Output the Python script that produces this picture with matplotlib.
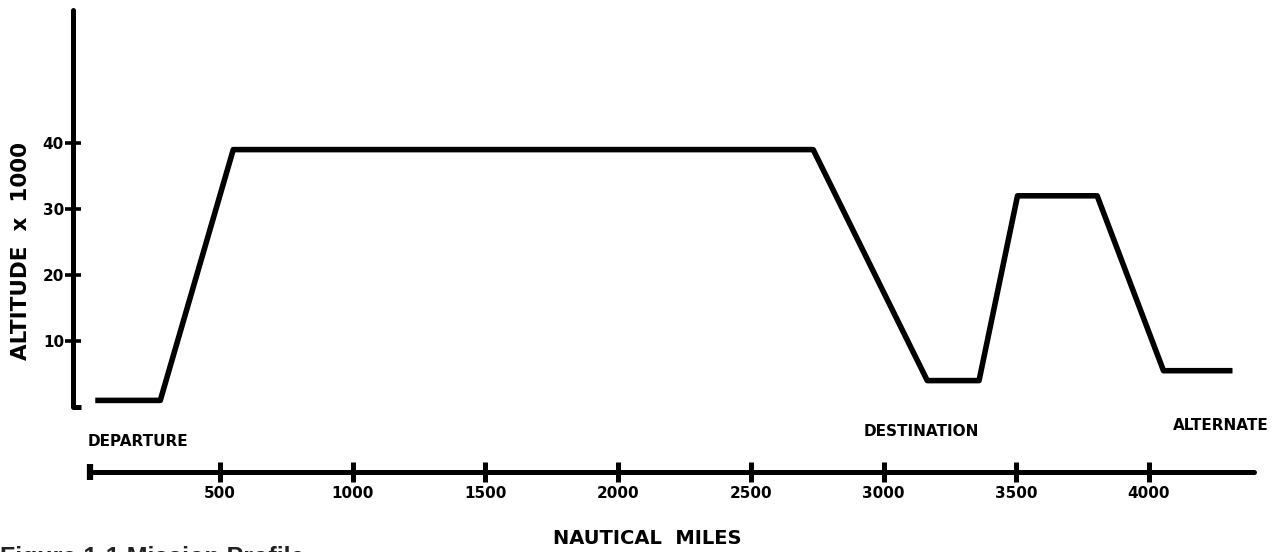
import matplotlib
matplotlib.use("Agg")
import matplotlib.pyplot as plt
from matplotlib.ticker import FixedLocator
from matplotlib.transforms import blended_transform_factory

# Mission profile: distance flown (nautical miles) vs altitude (thousands of feet)
distance_nm = [30, 275, 550, 2735, 3165, 3360, 3505, 3805, 4055, 4315]
altitude_kft = [1, 1, 39, 39, 4, 4, 32, 32, 5.5, 5.5]

alt_ticks = [10, 20, 30, 40]
alt_tick_labels = ["10", "20", "30", "40"]
dist_ticks = [500, 1000, 1500, 2000, 2500, 3000, 3500, 4000]
dist_tick_labels = ["500", "1000", "1500", "2000", "2500", "3000", "3500", "4000"]

point_names = ["DEPARTURE", "DESTINATION", "ALTERNATE"]

plt.rcParams["font.family"] = ["DejaVu Sans"]
plt.rcParams["font.weight"] = "bold"

W, H = 1282, 552
fig = plt.figure(figsize=(W / 100, H / 100), dpi=100)
fig.patch.set_facecolor("white")

# pixel geometry of the drawing
x0_px, px_per_nm = 87.3, 0.2654
axis_px, base_px, top_px = 73, 407, 10
px_per_kft = 6.6


def nm_at(px):
    return (px - x0_px) / px_per_nm


# ---- altitude panel ----
ax = fig.add_axes([axis_px / W, (H - base_px) / H, (W - axis_px) / W, (base_px - top_px) / H])
ax.set_xlim(nm_at(axis_px), nm_at(W))
ax.set_ylim(0, (base_px - top_px) / px_per_kft)
for s in ("top", "right", "bottom"):
    ax.spines[s].set_visible(False)
ax.spines["left"].set_linewidth(3.6)
ax.spines["left"].set_capstyle("round")
ax.tick_params(axis="x", bottom=False, labelbottom=False)
ax.set_yticks(alt_ticks, alt_tick_labels)
ax.tick_params(axis="y", direction="inout", length=11, width=2.6, labelsize=11, pad=1)
ax.yaxis.set_minor_locator(FixedLocator([0]))
ax.tick_params(axis="y", which="minor", direction="in", length=6, width=3.6)
for lbl in ax.get_yticklabels():
    lbl.set_fontweight("heavy")

ax.plot(distance_nm, altitude_kft, color="black", lw=4, solid_joinstyle="round",
        solid_capstyle="butt", clip_on=False)

# ---- distance scale ----
ax2 = fig.add_axes([axis_px / W, (H - 472) / H, (W - axis_px) / W, 0.02])
ax2.set_xlim(ax.get_xlim())
for s in ("top", "right", "left"):
    ax2.spines[s].set_visible(False)
ax2.patch.set_visible(False)
ax2.spines["bottom"].set_linewidth(3.6)
ax2.spines["bottom"].set_capstyle("round")
ax2.spines["bottom"].set_bounds(nm_at(90), nm_at(1254))
ax2.set_yticks([])
ax2.set_xticks(dist_ticks, dist_tick_labels)
ax2.tick_params(axis="x", direction="inout", length=14, width=3.6, labelsize=11, pad=3)
ax2.xaxis.set_minor_locator(FixedLocator([nm_at(90)]))
ax2.tick_params(axis="x", which="minor", direction="inout", length=12, width=4.5)
for lbl in ax2.get_xticklabels():
    lbl.set_fontweight("heavy")

# ---- point names ----
trans = blended_transform_factory(ax.transData, fig.transFigure)
ax.text(nm_at(88), 1 - 441 / H, point_names[0], transform=trans, ha="left",
        va="center", fontsize=11, fontweight="heavy", clip_on=False)
ax.text(nm_at(921), 1 - 432 / H, point_names[1], transform=trans, ha="center",
        va="center", fontsize=11, fontweight="heavy", clip_on=False)
ax.text(nm_at(1221), 1 - 425 / H, point_names[2], transform=trans, ha="center",
        va="center", fontsize=11, fontweight="heavy", clip_on=False)

# ---- axis titles ----
fig.text(647 / W, 1 - 538 / H, "NAUTICAL  MILES", ha="center", va="center",
         fontsize=14, fontweight="heavy")
fig.text(21 / W, 1 - 251 / H, "ALTITUDE  x  1000", rotation=90, ha="center",
         va="center", fontsize=15.5, fontweight="heavy")

# caption, running off the bottom edge
fig.text(0.0, 1 - 546 / H, "Figure 1-1 Mission Profile", ha="left", va="top",
         fontsize=18, fontweight="bold", color="#222222",
         family=["Liberation Sans", "DejaVu Sans"])

fig.savefig("out.png", dpi=100, facecolor="white")
